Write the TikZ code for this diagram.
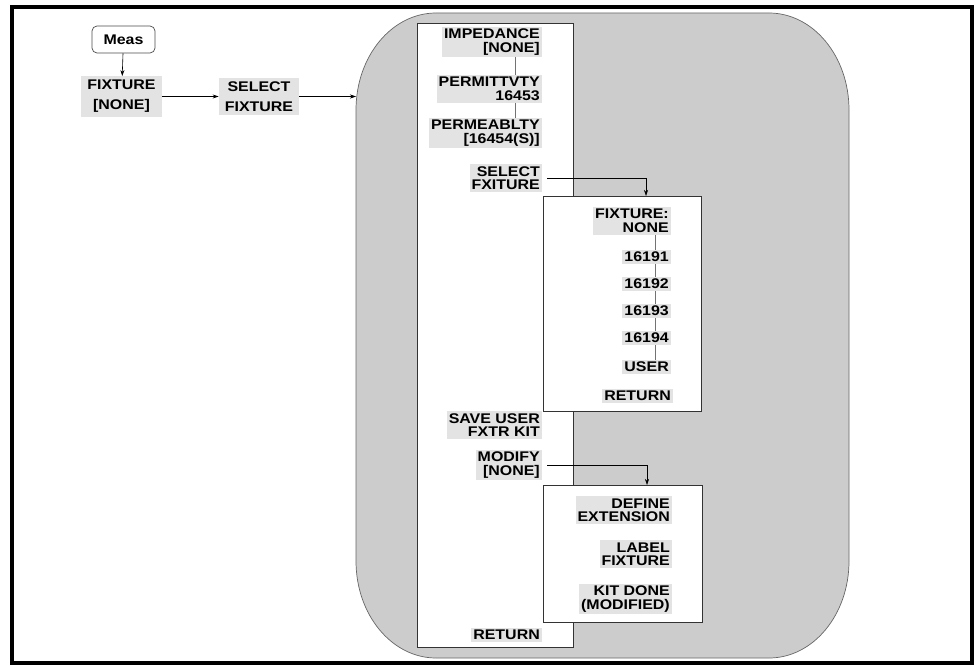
\documentclass[tikz,border=0pt]{standalone}
\usepackage{fontspec}
\setmainfont{Liberation Sans}[FakeStretch=1.14]
\usetikzlibrary{arrows.meta}
\definecolor{biggray}{gray}{0.8}
\definecolor{lblgray}{gray}{0.89}
\begin{document}
\begin{tikzpicture}[x=1pt,y=-1pt,
  lf/.style={font=\fontsize{14}{13.5}\selectfont\bfseries},
  lbl/.style={lf, fill=lblgray, inner xsep=2pt, inner ysep=2pt, align=right, anchor=east},
  leftlbl/.style={font=\fontsize{14}{20}\selectfont\bfseries, fill=lblgray, inner xsep=6pt, inner ysep=4pt, align=center},
  box/.style={draw=black!80, line width=0.8pt, fill=white, inner sep=0pt, anchor=north west},
  arr/.style={draw=black, line width=0.6pt, -{Stealth[length=6pt,width=4pt]}},
  link/.style={draw=black!55, line width=0.8pt}]
\useasboundingbox (0,0) rectangle (977,666);
% outer frame
\draw[line width=4pt] (12,7.5) rectangle (972,663);
% big rounded shaded area
\draw[draw=black!60, line width=0.7pt, fill=biggray]
  (436,13) -- (769,13) .. controls (813,13) and (849,56) .. (849,110)
  -- (849,561) .. controls (849,615) and (813,658) .. (769,658)
  -- (436,658) .. controls (392,658) and (356,615) .. (356,561)
  -- (356,110) .. controls (356,56) and (392,13) .. (436,13) -- cycle;
% main menu box
\node[box, minimum width=156pt, minimum height=624pt] (menu) at (417,23) {};
\node[lbl] (imp) at (542,42) {IMPEDANCE\\{}[NONE]};
\node[lbl] (pmt) at (542,89) {PERMITTVTY\\16453};
\node[lbl] (pmb) at (542,133) {PERMEABLTY\\{}[16454(S)]};
\node[lbl] (self) at (542,178) {SELECT\\FXITURE};
\node[lbl] (save) at (542,425) {SAVE USER\\FXTR KIT};
\node[lbl] (mod) at (542,465) {MODIFY\\{}[NONE]};
\node[lbl] (ret1) at (542,635) {RETURN};
\draw[link] ([xshift=-27pt]imp.south east) -- ([xshift=-27pt]pmt.north east);
\draw[link] ([xshift=-27pt]pmt.south east) -- ([xshift=-27pt]pmb.north east);
% fixture sub menu
\node[box, minimum width=158pt, minimum height=215pt] (sub1) at (543,196) {};
\node[lbl] (fixn) at (671,221) {FIXTURE:\\NONE};
\node[lbl] (f1) at (671,257) {16191};
\node[lbl] (f2) at (671,284) {16192};
\node[lbl] (f3) at (671,311) {16193};
\node[lbl] (f4) at (671,338) {16194};
\node[lbl] (user) at (671,367) {USER};
\node[lbl] (ret2) at (673,396) {RETURN};
\draw[link] ([xshift=-16pt]fixn.south east) -- ([xshift=-16pt]f1.north east);
\draw[link] ([xshift=-16pt]f1.south east) -- ([xshift=-16pt]f2.north east);
\draw[link] ([xshift=-16pt]f2.south east) -- ([xshift=-16pt]f3.north east);
\draw[link] ([xshift=-16pt]f3.south east) -- ([xshift=-16pt]f4.north east);
\draw[link] ([xshift=-16pt]f4.south east) -- ([xshift=-16pt]user.north east);
% modify sub menu
\node[box, minimum width=159pt, minimum height=137pt] (sub2) at (543,485) {};
\node[lbl] (def) at (672,510) {DEFINE\\EXTENSION};
\node[lbl] (lab) at (672,554) {LABEL\\FIXTURE};
\node[lbl] (kit) at (672,599) {KIT DONE\\(MODIFIED)};
% arrows into sub menus
\coordinate (s1in) at (646,196);
\draw[arr] ([xshift=5pt]self.east) -| (s1in);
\coordinate (s2in) at (647,485);
\draw[arr] ([xshift=5pt]mod.east) -| (s2in);
% left part
\node[draw=black!70, line width=0.7pt, rounded corners=5pt, fill=white, minimum width=63pt, minimum height=27pt, lf] (meas) at (123.5,39.5) {Meas};
\node[leftlbl] (fix) at (121.5,96.5) {FIXTURE\\{}[NONE]};
\node[leftlbl] (selx) at (259,96.5) {SELECT\\FIXTURE};
\draw[arr] (meas) -- (fix);
\draw[arr] (fix) -- (selx);
\coordinate (bigin) at (356,96.5);
\draw[arr] (selx.east) -- (bigin);
\end{tikzpicture}
\end{document}
